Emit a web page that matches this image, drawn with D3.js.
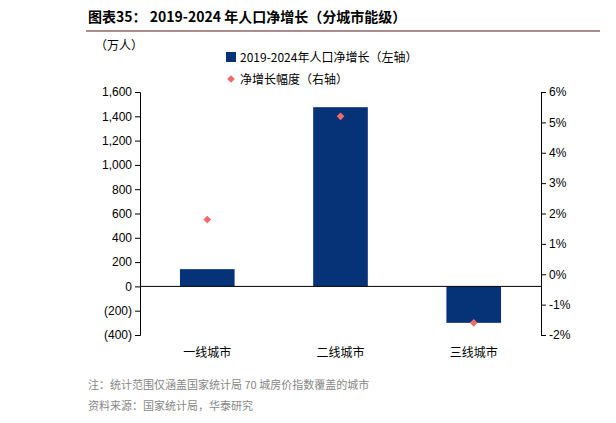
<!DOCTYPE html><html><head><meta charset="utf-8"><script src="https://cdn.jsdelivr.net/npm/d3@7"></script>
<style>body{margin:0;background:#fff;font-family:"Noto Sans CJK SC","Liberation Sans",sans-serif}</style></head><body><svg id="c" width="616" height="423"></svg>
<script>
const categories=["一线城市","二线城市","三线城市"];
const netGrowth=[142,1475,-300];
const growthRate=[1.8,5.2,-1.6];
const leftTicks=[-400,-200,0,200,400,600,800,1000,1200,1400,1600];
const rightTicks=[-2,-1,0,1,2,3,4,5,6];
const svg=d3.select("#c");
const L=140,R=541,T=92,B=335;
const x=d3.scaleBand().domain(categories).range([L,R]).paddingInner(0.59).paddingOuter(0.3);
const y=d3.scaleLinear().domain([-400,1600]).range([B,T]);
const y2=d3.scaleLinear().domain([-2,6]).range([B,T]);
const fmt=v=>v<0?"("+d3.format(",")(-v)+")":d3.format(",")(v);
svg.append("text").attr("x",88).attr("y",22).attr("font-size",14).attr("font-weight","bold").attr("fill","#000").text("图表35：  2019-2024 年人口净增长（分城市能级）");
svg.append("line").attr("x1",86).attr("x2",600).attr("y1",31).attr("y2",31).attr("stroke","#5a1a1a").attr("stroke-width",1.2);
svg.append("text").attr("x",95).attr("y",50).attr("font-size",12).text("（万人）");
const ax=svg.append("g").attr("transform",`translate(${L},0)`).call(d3.axisLeft(y).tickValues(leftTicks).tickFormat(fmt).tickSize(5));
const ax2=svg.append("g").attr("transform",`translate(${R},0)`).call(d3.axisRight(y2).tickValues(rightTicks).tickFormat(d=>d+"%").tickSize(5));
[ax,ax2].forEach(a=>{a.selectAll("text").attr("font-size",12).attr("font-family","Liberation Sans, Arial").attr("fill","#000");a.selectAll("line,path").attr("stroke","#000");});
svg.selectAll(".bar").data(categories).enter().append("rect").attr("x",d=>x(d)).attr("width",x.bandwidth())
 .attr("y",(d,i)=>y(Math.max(0,netGrowth[i]))).attr("height",(d,i)=>Math.abs(y(netGrowth[i])-y(0))).attr("fill","#063377");
svg.append("line").attr("x1",L).attr("x2",R).attr("y1",y(0)).attr("y2",y(0)).attr("stroke","#000");
const dia=d3.symbol(d3.symbolSquare,30);
svg.selectAll(".pt").data(categories).enter().append("path").attr("d",dia)
 .attr("transform",(d,i)=>`translate(${x(d)+x.bandwidth()/2},${y2(growthRate[i])}) rotate(45)`).attr("fill","#f26a6a");
svg.selectAll(".cl").data(categories).enter().append("text").attr("x",d=>x(d)+x.bandwidth()/2).attr("y",357).attr("text-anchor","middle").attr("font-size",12).text(d=>d);
svg.append("rect").attr("x",226).attr("y",52).attr("width",10).attr("height",10).attr("fill","#063377");
svg.append("text").attr("x",240).attr("y",62).attr("font-size",12).text("2019-2024年人口净增长（左轴）");
svg.append("path").attr("d",dia).attr("transform","translate(231,79) rotate(45)").attr("fill","#f26a6a");
svg.append("text").attr("x",240).attr("y",84).attr("font-size",12).text("净增长幅度（右轴）");
svg.append("text").attr("x",88).attr("y",389).attr("font-size",11).attr("fill","#888").text("注：统计范围仅涵盖国家统计局 70 城房价指数覆盖的城市");
svg.append("text").attr("x",88).attr("y",410).attr("font-size",11).attr("fill","#888").text("资料来源：国家统计局，华泰研究");
</script></body></html>
